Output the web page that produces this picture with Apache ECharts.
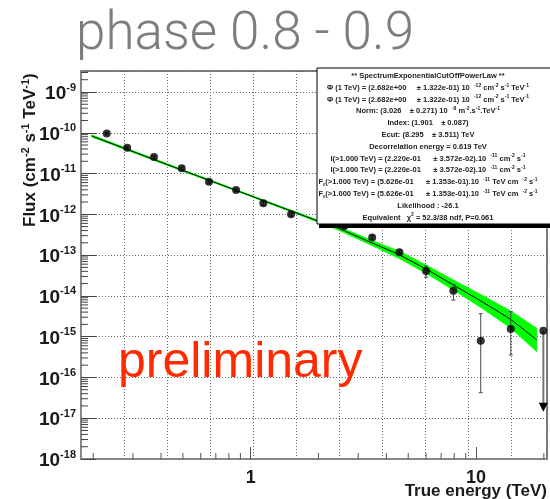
<!DOCTYPE html>
<html>
<head>
<meta charset="utf-8">
<script src="https://cdn.jsdelivr.net/npm/echarts@6/dist/echarts.min.js"></script>
<style>
  html, body { margin: 0; padding: 0; background: #fff; }
  #chart { width: 550px; height: 499px; }
</style>
</head>
<body>
<div id="chart"></div>
<script>
// ---------------- data ----------------
const titleText = 'phase 0.8 - 0.9';
const watermarkText = 'preliminary';
const xAxisTitle = 'True energy (TeV)';

// flux points (TeV, cm-2 s-1 TeV-1) with lower / upper error
const pointE  = [0.2296, 0.283, 0.372, 0.494, 0.653, 0.861, 1.137, 1.51, 2.6, 3.46, 4.57, 6.0, 7.93, 10.49, 14.26];
const pointF  = [9.6e-11, 4.3e-11, 2.55e-11, 1.35e-11, 6.3e-12, 3.95e-12, 1.86e-12, 1.0e-12, 5.2e-13, 2.7e-13, 1.17e-13, 4.1e-14, 1.34e-14, 7.96e-16, 1.54e-15];
const pointLo = [8.9e-11, 4.0e-11, 2.37e-11, 1.25e-11, 5.8e-12, 3.6e-12, 1.68e-12, 0.9e-12, 4.6e-13, 2.4e-13, 1.02e-13, 2.86e-14, 7.9e-15, 4.23e-17, 3.56e-16];
const pointHi = [1.03e-10, 4.6e-11, 2.73e-11, 1.45e-11, 6.8e-12, 4.3e-12, 2.04e-12, 1.1e-12, 5.8e-13, 3.0e-13, 1.32e-13, 5.41e-14, 1.92e-14, 3.66e-15, 4.09e-15];

// upper limit
const ulE   = [19.89];
const ulF   = [1.40e-15];
const ulTip = [1.45e-17];

// fitted model (black line) and its error band (green)
const fitE   = [0.197, 0.494, 1.0, 1.93, 2.45, 3.48, 4.57, 6.04, 7.93, 10.5, 14.2, 18.6];
const fitF   = [8.34e-11, 1.22e-11, 2.85e-12, 7.26e-13, 4.55e-13, 1.95e-13, 1.01e-13, 4.44e-14, 1.85e-14, 7.5e-15, 2.67e-15, 8.3e-16];
const bandHi = [8.83e-11, 1.277e-11, 2.95e-12, 7.69e-13, 5.05e-13, 2.25e-13, 1.24e-13, 5.6e-14, 2.45e-14, 1.08e-14, 4.3e-15, 1.6e-15];
const bandLo = [7.88e-11, 1.165e-11, 2.75e-12, 6.86e-13, 4.10e-13, 1.68e-13, 8.2e-14, 3.5e-14, 1.4e-14, 5.2e-15, 1.65e-15, 4.3e-16];

// axis extents / tick labels
const xMin = 0.1765, xMax = 20.65;
const yMin = 1e-18, yMax = 3.27e-9;
const xTickLabels = ['1', '10'];
const yTickExponents = [-18, -17, -16, -15, -14, -13, -12, -11, -10, -9];
const minorMultipliers = [2, 3, 4, 5, 6, 7, 8, 9];

// fit result box text
const boxLines = [
  '{t|** SpectrumExponentialCutOffPowerLaw **}',
  '{t|Φ (1 TeV) = (2.682e+00     ± 1.322e-01) 10  }{s|-12}{t| cm}{s|-2}{t| s}{s|-1}{t| TeV}{s|-1}',
  '{t|Φ (1 TeV) = (2.682e+00     ± 1.322e-01) 10  }{s|-12}{t| cm}{s|-2}{t| s}{s|-1}{t| TeV}{s|-1}',
  '{t|Norm: (3.026    ± 0.271) 10  }{s|-8}{t| m}{s|-2}{t|.s}{s|-1}{t|.TeV}{s|-1}',
  '{t|Index: (1.901    ± 0.087)}',
  '{t|Ecut: (8.295    ± 3.511) TeV}',
  '{t|Decorrelation energy = 0.619 TeV}',
  '{t|I(>1.000 TeV) = (2.220e-01      ± 3.572e-02).10  }{s|-11}{t| cm}{s|-2}{t| s}{s|-1}',
  '{t|I(>1.000 TeV) = (2.220e-01      ± 3.572e-02).10  }{s|-11}{t| cm}{s|-2}{t| s}{s|-1}',
  '{t|F}{u|ε}{t|(>1.000 TeV) = (5.626e-01      ± 1.353e-01).10  }{s|-11}{t| TeV cm  }{s|-2}{t| s}{s|-1}',
  '{t|F}{u|ε}{t|(>1.000 TeV) = (5.626e-01      ± 1.353e-01).10  }{s|-11}{t| TeV cm  }{s|-2}{t| s}{s|-1}',
  '{t|Likelihood : -26.1}',
  '{t|Equivalent   χ}{s|2}{t| = 52.3/38 ndf, P=0.061}'
];
// ---------------------------------------------------------------

const FONT = '"Liberation Sans", Arial, Helvetica, sans-serif';
const chart = echarts.init(document.getElementById('chart'), null, { renderer: 'canvas', width: 550, height: 499 });

function isDecade(v) {
  const l = Math.log10(v);
  return Math.abs(l - Math.round(l)) < 1e-6;
}

// minor tick positions (log axis: 2..9 per decade)
const xMinor = [], yMinor = [];
[-1, 0, 1].forEach(k => minorMultipliers.forEach(m => {
  const v = m * Math.pow(10, k); if (v > xMin && v < xMax) xMinor.push(v);
}));
yTickExponents.forEach(k => minorMultipliers.forEach(m => {
  const v = m * Math.pow(10, k); if (v > yMin && v < yMax) yMinor.push(v);
}));

const boxX = 317, boxY = 68, boxW = 240, boxH = 156;
const boxCx = 428, row0 = 76, rowStep = 11.8;

const graphics = [
  { type: 'text', left: 76, top: 9, z: 100,
    style: { text: titleText, font: '300 53px Roboto, "Liberation Sans", sans-serif', fill: '#7d7d7d' } },
  { type: 'text', x: 118, y: 363, z: 50, silent: true,
    style: { text: watermarkText, font: '50px ' + FONT, fill: '#ff2a00', verticalAlign: 'middle' } },
  { type: 'text', x: 547, y: 491, z: 100,
    style: { text: xAxisTitle, font: 'bold 17px ' + FONT, fill: '#1a1a1a', align: 'right', verticalAlign: 'middle' } },
  { type: 'text', x: 30, y: 227, rotation: Math.PI / 2, z: 100,
    style: {
      text: '{b|Flux (cm}{s|-2}{b| s}{s|-1}{b| TeV}{s|-1}{b|)}',
      align: 'left', verticalAlign: 'middle',
      rich: {
        b: { font: 'bold 17px ' + FONT, fill: '#1a1a1a', lineHeight: 20 },
        s: { font: 'bold 11px ' + FONT, fill: '#1a1a1a', lineHeight: 12, verticalAlign: 'top' }
      }
    } },
  // box shadow + box
  { type: 'rect', z: 200, shape: { x: boxX + 2, y: boxY + boxH, width: boxW, height: 4 }, style: { fill: '#000' } },
  { type: 'rect', z: 201, shape: { x: boxX, y: boxY, width: boxW, height: boxH }, style: { fill: '#fff', stroke: '#000', lineWidth: 1 } }
];
boxLines.forEach((ln, i) => {
  graphics.push({
    type: 'text', z: 202, x: boxCx, y: row0 + i * rowStep,
    style: {
      text: ln, align: 'center', verticalAlign: 'middle',
      rich: {
        t: { font: 'bold 7.5px ' + FONT, fill: '#222', lineHeight: 10 },
        s: { font: 'bold 5px ' + FONT, fill: '#222', lineHeight: 5, verticalAlign: 'top' },
        u: { font: 'bold 5px ' + FONT, fill: '#222', lineHeight: 5, verticalAlign: 'bottom' }
      }
    }
  });
});

const gridLine = { color: '#666', type: [1, 2], width: 1 };

const option = {
  backgroundColor: '#fff',
  animation: false,
  textStyle: { fontFamily: FONT },
  grid: { left: 81, top: 71, right: 3, bottom: 40, show: true, borderColor: '#555', borderWidth: 1.5, backgroundColor: 'transparent' },
  xAxis: [
    {
      type: 'log', logBase: 10, min: xMin, max: xMax, position: 'bottom',
      axisLine: { show: true, lineStyle: { color: '#888', width: 2 } },
      axisTick: { show: true, inside: true, length: 12, lineStyle: { color: '#555', width: 1 } },
      axisLabel: {
        margin: 10, color: '#1a1a1a', fontSize: 18, fontWeight: 'bold', fontFamily: FONT,
        showMinLabel: false, showMaxLabel: false,
        formatter: v => {
          if (!isDecade(v)) return '';
          const s = String(Math.round(v));
          return xTickLabels.indexOf(s) >= 0 ? s : '';
        }
      },
      splitLine: { show: false }
    },
    {
      type: 'value', min: 0, max: 10.84, interval: 1, position: 'top',
      axisLine: { show: false }, axisTick: { show: false }, axisLabel: { show: false },
      splitLine: { show: true, lineStyle: gridLine }
    }
  ],
  yAxis: {
    type: 'log', logBase: 10, min: yMin, max: yMax,
    axisLine: { show: true, lineStyle: { color: '#888', width: 2 } },
    axisTick: { show: true, inside: true, length: 15, lineStyle: { color: '#444', width: 1 } },
    axisLabel: {
      margin: 5, showMaxLabel: false,
      formatter: v => {
        if (!isDecade(v)) return '';
        const e = Math.round(Math.log10(v));
        if (yTickExponents.indexOf(e) < 0) return '';
        return '{b|10}{s|' + e + '}';
      },
      rich: {
        b: { fontSize: 19, fontWeight: 'bold', color: '#1a1a1a', fontFamily: FONT, lineHeight: 20, padding: [4, 0, 0, 0] },
        s: { fontSize: 11, fontWeight: 'bold', color: '#1a1a1a', fontFamily: FONT, lineHeight: 12, verticalAlign: 'top' }
      }
    },
    splitLine: { show: true, lineStyle: gridLine }
  },
  graphic: graphics,
  series: [
    // minor ticks
    {
      type: 'custom', name: 'minorTicks', xAxisIndex: 0, silent: true, z: 3,
      data: [[xMin, yMin]],
      renderItem: (params, api) => {
        const ch = [];
        xMinor.forEach(v => {
          const p = api.coord([v, yMin]);
          ch.push({ type: 'line', shape: { x1: p[0], y1: p[1], x2: p[0], y2: p[1] - 6 }, style: { stroke: '#555', lineWidth: 1 } });
        });
        yMinor.forEach(v => {
          const p = api.coord([xMin, v]);
          ch.push({ type: 'line', shape: { x1: p[0], y1: p[1], x2: p[0] + 7, y2: p[1] }, style: { stroke: '#444', lineWidth: 1 } });
        });
        return { type: 'group', children: ch };
      }
    },
    // green error band
    {
      type: 'custom', name: 'band', xAxisIndex: 0, silent: true, z: 4,
      data: [[fitE[0], fitF[0]]],
      renderItem: (params, api) => {
        const pts = [];
        fitE.forEach((e, i) => pts.push(api.coord([e, bandHi[i]])));
        for (let i = fitE.length - 1; i >= 0; i--) pts.push(api.coord([fitE[i], bandLo[i]]));
        return { type: 'polygon', shape: { points: pts }, style: { fill: '#00ff00', stroke: '#00ff00', lineWidth: 0.8 } };
      }
    },
    // fit line
    {
      type: 'line', name: 'fit', xAxisIndex: 0, z: 5, symbol: 'none', smooth: 0.2,
      data: fitE.map((e, i) => [e, fitF[i]]),
      lineStyle: { color: '#000', width: 1 }
    },
    // error bars
    {
      type: 'custom', name: 'errors', xAxisIndex: 0, z: 6, silent: true,
      data: pointE.map((e, i) => [e, pointF[i], pointLo[i], pointHi[i]]),
      encode: { x: 0, y: 1 },
      renderItem: (params, api) => {
        const e = api.value(0);
        const a = api.coord([e, api.value(2)]), b = api.coord([e, api.value(3)]);
        const st = { stroke: '#4a4a4a', lineWidth: 1 };
        return { type: 'group', children: [
          { type: 'line', shape: { x1: a[0], y1: a[1], x2: b[0], y2: b[1] }, style: st },
          { type: 'line', shape: { x1: a[0] - 2, y1: a[1], x2: a[0] + 2, y2: a[1] }, style: st },
          { type: 'line', shape: { x1: b[0] - 2, y1: b[1], x2: b[0] + 2, y2: b[1] }, style: st }
        ] };
      }
    },
    // upper limit arrow
    {
      type: 'custom', name: 'upperLimit', xAxisIndex: 0, z: 6, silent: true,
      data: ulE.map((e, i) => [e, ulF[i], ulTip[i]]),
      encode: { x: 0, y: 1 },
      renderItem: (params, api) => {
        const e = api.value(0);
        const a = api.coord([e, api.value(1)]), b = api.coord([e, api.value(2)]);
        return { type: 'group', children: [
          { type: 'line', shape: { x1: a[0], y1: a[1], x2: b[0], y2: b[1] - 8 }, style: { stroke: '#777', lineWidth: 2 } },
          { type: 'polygon', shape: { points: [[b[0] - 4.5, b[1] - 9], [b[0] + 4.5, b[1] - 9], [b[0], b[1]]] }, style: { fill: '#000' } }
        ] };
      }
    },
    // points
    {
      type: 'scatter', name: 'points', xAxisIndex: 0, z: 7, symbol: 'circle', symbolSize: 8,
      itemStyle: { color: '#000' },
      data: pointE.map((e, i) => [e, pointF[i]]).concat(ulE.map((e, i) => [e, ulF[i]]))
    }
  ]
};
chart.setOption(option);
</script>
</body>
</html>
